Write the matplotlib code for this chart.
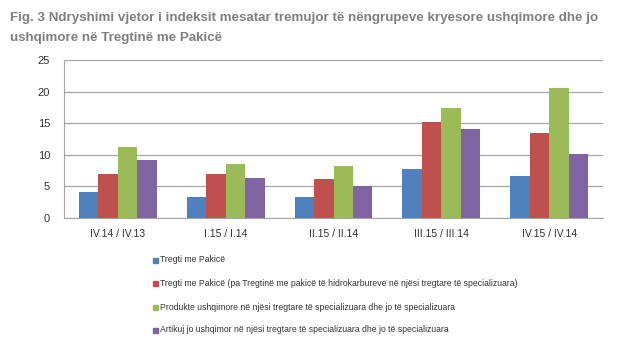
import matplotlib
matplotlib.use("Agg")
import matplotlib.pyplot as plt
import numpy as np
from matplotlib.patches import Rectangle

categories = ["IV.14 / IV.13", "I.15 / I.14", "II.15 / II.14", "III.15 / III.14", "IV.15 / IV.14"]
series_names = [
    "Tregti me Pakicë",
    "Tregti me Pakicë (pa Tregtinë me pakicë të hidrokarbureve në njësi tregtare të specializuara)",
    "Produkte ushqimore në njësi tregtare të specializuara dhe jo të specializuara",
    "Artikuj jo ushqimor në njësi tregtare të specializuara dhe jo të specializuara",
]
tregti = [4.1, 3.3, 3.3, 7.8, 6.7]
tregti_pa_hidro = [7.0, 7.0, 6.2, 15.2, 13.5]
ushqimore = [11.3, 8.6, 8.3, 17.4, 20.5]
jo_ushqimore = [9.2, 6.3, 5.1, 14.1, 10.1]
series = [tregti, tregti_pa_hidro, ushqimore, jo_ushqimore]
colors = ["#4F81BD", "#C0504D", "#9BBB59", "#8064A2"]
yticks = [0, 5, 10, 15, 20, 25]

plt.rcParams['font.family'] = ['Liberation Sans', 'DejaVu Sans']

fig = plt.figure(figsize=(6.2, 3.52), dpi=100)
ax = fig.add_axes([64/620, 1 - 218/352, (603-64)/620, (218-60)/352])

x = np.arange(len(categories))
w = 0.18
for i, (vals, c) in enumerate(zip(series, colors)):
    ax.bar(x + (i - 1.5) * w, vals, width=w, color=c, zorder=3)

ax.set_ylim(0, 25)
ax.set_xlim(-0.5, len(categories) - 0.5)
ax.set_yticks(yticks)
ax.set_yticklabels([str(t) for t in yticks], fontsize=8, color="#333333")
ax.set_xticks(x)
ax.set_xticklabels(categories, fontsize=7.5, color="#333333")
ax.tick_params(axis='both', length=0, pad=8)
ax.tick_params(axis='y', pad=10)
ax.yaxis.grid(True, color="#A6A6A6", linewidth=0.9, zorder=0)
for s in ["top", "right"]:
    ax.spines[s].set_visible(False)
ax.spines["left"].set_color("#A6A6A6")
ax.spines["bottom"].set_color("#A6A6A6")

fig.text(10/620, 1 - 18/352, "Fig. 3 Ndryshimi vjetor i indeksit mesatar tremujor të nëngrupeve kryesore ushqimore dhe jo",
         fontsize=9.6, fontweight="bold", color="#7F7F7F", va="center")
fig.text(10/620, 1 - 38/352, "ushqimore në Tregtinë me Pakicë",
         fontsize=9.6, fontweight="bold", color="#7F7F7F", va="center")

leg_y = [260, 283, 307, 330]
for name, c, yy in zip(series_names, colors, leg_y):
    fig.patches.append(Rectangle((153/620, 1 - (yy + 2.5)/352), 5/620, 5/352,
                                 transform=fig.transFigure, color=c))
    fig.text(160/620, 1 - yy/352, name, fontsize=6.2, color="#333333", va="center")

fig.savefig("out.png", dpi=100)
